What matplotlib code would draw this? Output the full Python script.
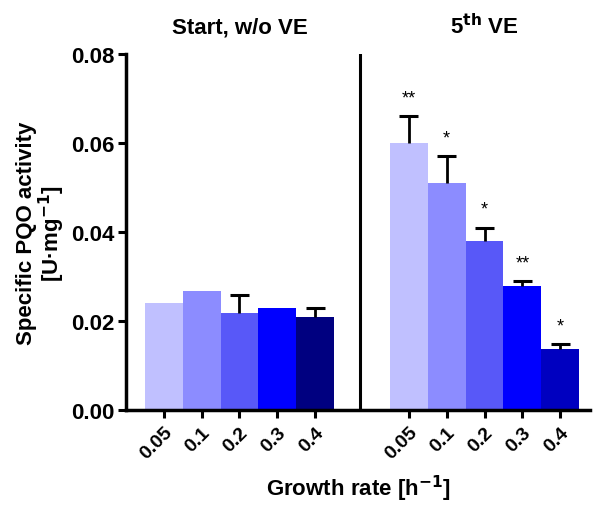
import matplotlib.pyplot as plt

plt.rcParams['font.family'] = ['Liberation Sans', 'DejaVu Sans']
plt.rcParams['font.weight'] = 'bold'
plt.rcParams['mathtext.default'] = 'bf'

rates = ["0.05", "0.1", "0.2", "0.3", "0.4"]
start_vals = [0.024, 0.0267, 0.0218, 0.0229, 0.0208]
start_err = [0, 0, 0.004, 0, 0.0021]
ve_vals = [0.060, 0.051, 0.038, 0.0279, 0.0137]
ve_err = [0.006, 0.006, 0.003, 0.001, 0.0011]
ve_stars = ["**", "*", "*", "**", "*"]

start_colors = ["#c0c0ff", "#8c8cff", "#5858f8", "#0000ff", "#000080"]
ve_colors = ["#c0c0ff", "#8c8cff", "#5858f8", "#0000ff", "#0000c0"]

pos_left = [0, 1, 2, 3, 4]
pos_right = [6.48, 7.48, 8.48, 9.48, 10.48]

fig = plt.figure(figsize=(5.98, 5.06), dpi=100)
ax = fig.add_axes([0.2107, 0.1877, 0.776, 0.7036])

ax.bar(pos_left, start_vals, width=1.0, color=start_colors, zorder=2)
ax.bar(pos_right, ve_vals, width=1.0, color=ve_colors, zorder=2)

# only the upper half of each error bar
for pos, vals, errs in [(pos_left, start_vals, start_err), (pos_right, ve_vals, ve_err)]:
    for x, v, e in zip(pos, vals, errs):
        if e > 0:
            ax.vlines(x, v, v + e, color='black', lw=2, zorder=3)
            ax.hlines(v + e, x - 0.25, x + 0.25, color='black', lw=2.2, zorder=3)

for x, v, e, s in zip(pos_right, ve_vals, ve_err, ve_stars):
    ax.text(x, v + e + 0.0022, s, ha='center', va='bottom', fontsize=13,
            fontweight='normal')

ax.axvline(5.19, color='black', lw=2.2)

ax.set_xlim(-1.0, 11.27)
ax.set_ylim(0, 0.08)
ax.set_yticks([0, 0.02, 0.04, 0.06, 0.08])
ax.set_yticklabels(["0.00", "0.02", "0.04", "0.06", "0.08"], fontsize=16,
                   fontweight='bold')
ax.set_xticks(pos_left + pos_right)
ax.set_xticklabels(rates + rates, rotation=45, ha='right',
                   rotation_mode='anchor', fontsize=14, fontweight='bold')

for side in ['top', 'right']:
    ax.spines[side].set_visible(False)
ax.spines['left'].set_linewidth(2.5)
ax.spines['bottom'].set_linewidth(2.5)
ax.tick_params(axis='both', width=2.2, length=6, direction='out')
ax.tick_params(axis='y', pad=2)

ax.set_ylabel("Specific PQO activity\n[U·mg$^{-1}$]", fontsize=16,
              fontweight='bold', labelpad=3, linespacing=1.0)
ax.set_xlabel("Growth rate [h$^{-1}$]", fontsize=16,
              fontweight='bold', labelpad=8)

ax.text(2, 1.045, "Start, w/o VE", transform=ax.get_xaxis_transform(),
        ha='center', va='bottom', fontsize=16, fontweight='bold')
ax.text(8.48, 1.045, "5$^{th}$ VE", transform=ax.get_xaxis_transform(),
        ha='center', va='bottom', fontsize=16, fontweight='bold')

fig.savefig("out.png", dpi=100)
